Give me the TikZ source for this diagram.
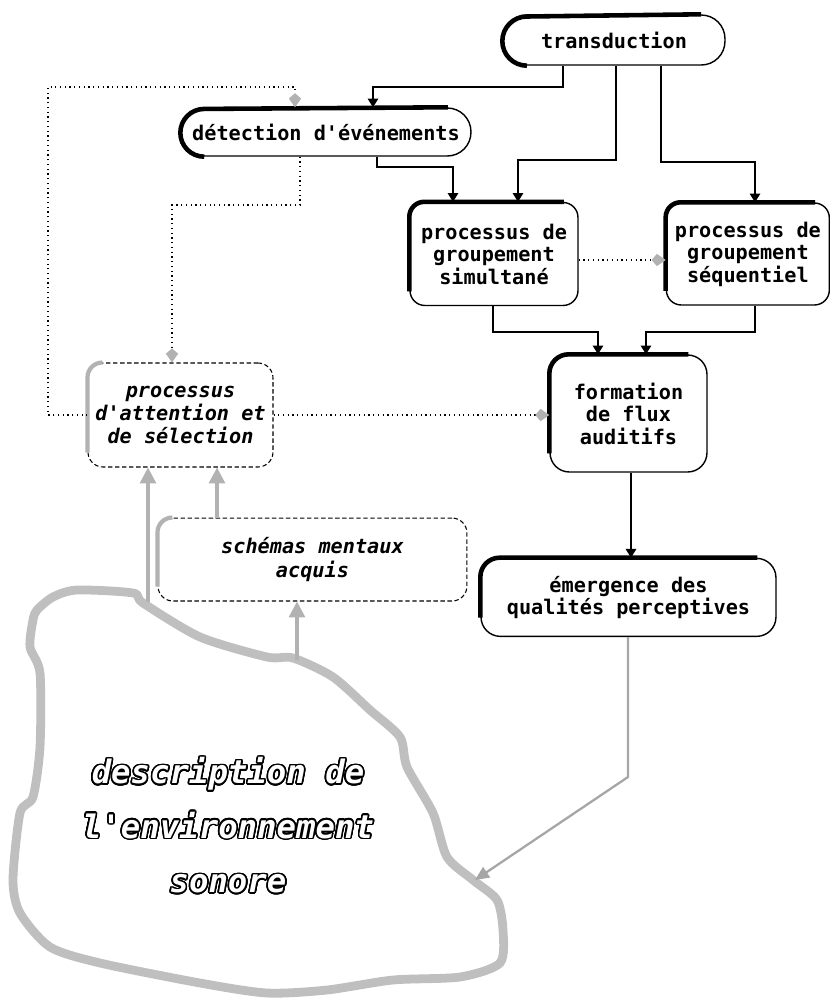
\documentclass[tikz,border=0pt]{standalone}
\usepackage{fontspec}
\setmonofont{DejaVu Sans Mono}
\usepackage[copies]{contour}
\usepackage{tikz}
\usetikzlibrary{arrows.meta, positioning}

\contourlength{0.9pt}
\contournumber{24}

\newcommand{\boxrim}[3]{\draw[#3, line width=2.6pt, rounded corners=#2] ([yshift=#2]#1.south west) -- (#1.north west) -- ([xshift=-#2]#1.north east);}
\newcommand{\caprim}[2]{\draw[line width=2.6pt] ([xshift=#2]#1.south west) arc[start angle=270, end angle=90, radius=#2] -- ([xshift=-#2]#1.north east);}
\newcommand{\dashrim}[2]{\draw[gray!60, line width=2.4pt, rounded corners=#2] ([yshift=#2]#1.south west) -- (#1.north west) -- ([xshift=#2]#1.north west);}

\tikzset{
  procbox/.style={draw, line width=0.8pt, rounded corners=8.5pt, align=center, inner sep=1pt,
    font=\fontsize{11.5}{12.8}\selectfont\ttfamily\bfseries},
  capsule/.style={procbox, rounded corners=13.5pt},
  mindbox/.style={procbox, line width=0.6pt, dash pattern=on 2.5pt off 1.5pt,
    font=\fontsize{11.5}{13.3}\selectfont\ttfamily\bfseries\itshape},
  flow/.style={line width=0.8pt, -{Triangle[length=5pt,width=6pt]}},
  hint/.style={dotted, line width=0.7pt, -{Kite[length=8pt,width=7pt,inset=3pt,color=gray!60,fill=gray!60]}},
  cue/.style={gray!60, line width=2pt, -{Triangle[length=9pt,width=9pt]}},
  feedback/.style={gray!70, line width=1.3pt, -{Triangle[length=8pt,width=7pt]}},
}

\begin{document}
\begin{tikzpicture}[x=0.02cm, y=-0.02cm]
    \useasboundingbox (0,0) rectangle (830,1001);

    \node [capsule, minimum width=4.44cm, minimum height=1cm] (transduction) at (614,40) {transduction};
    \node [capsule, minimum width=5.8cm, minimum height=0.96cm] (detection) at (326,132) {détection d'événements};
    \node [procbox, minimum width=3.36cm, minimum height=2.06cm] (simultaneous) at (494,254) {processus de\\groupement\\simultané};
    \node [procbox, minimum width=3.26cm, minimum height=2.04cm, right=1.74cm of simultaneous] (sequential) {processus de\\groupement\\séquentiel};
    \node [procbox, rounded corners=11pt, minimum width=3.14cm, minimum height=2.34cm] (formation) at (628.5,413.5) {formation\\de flux\\auditifs};
    \node [procbox, rounded corners=11pt, minimum width=5.9cm, minimum height=1.56cm, below=1.7cm of formation] (emergence) {émergence des\\qualités perceptives};
    \node [mindbox, minimum width=3.7cm, minimum height=2.08cm] (attention) at (180.5,415) {processus\\d'attention et\\de sélection};
    \node [mindbox, minimum width=6.18cm, minimum height=1.66cm, below=1cm of attention, xshift=2.64cm] (schemas) {schémas mentaux\\acquis};

    \caprim{transduction}{14pt}
    \caprim{detection}{13.6pt}
    \boxrim{simultaneous}{8.5pt}{black}
    \boxrim{sequential}{8.5pt}{black}
    \boxrim{formation}{11pt}{black}
    \boxrim{emergence}{11pt}{black}
    \dashrim{attention}{8.5pt}
    \dashrim{schemas}{8.5pt}

    \draw [gray!50, line width=5pt, line join=round] plot [smooth cycle, tension=0.45] coordinates {
        (37,610) (53,597) (77,590) (133,593) (143,603) (200,637) (267,657) (293,658)
        (333,677) (370,710) (400,737) (407,767) (433,813) (447,857) (473,880) (497,900)
        (503,930) (500,963) (460,977) (393,980) (327,990) (267,993) (200,983) (100,963)
        (50,947) (20,913) (13,880) (20,813) (33,797) (40,747) (40,673) (30,647) (33,620)};
    \node [font=\fontsize{18.4}{31}\selectfont\ttfamily\bfseries\itshape, color=white, align=center] (environment) at (228,826)
        {\contour{black}{description de}\\\contour{black}{l'environnement}\\\contour{black}{sonore}};
    \coordinate (envA) at (148,602);
    \coordinate (envB) at (297,660);
    \coordinate (envC) at (475,880);
    \coordinate (bend) at (628,777);

    \draw [flow] (563,0 |- transduction.south) |- (373,87) -- (373,0 |- detection.north);
    \draw [flow] (616,0 |- transduction.south) |- (518,160) -- (518,0 |- simultaneous.north);
    \draw [flow] (661,0 |- transduction.south) |- (755,162) -- (755,0 |- sequential.north);
    \draw [flow] (377,0 |- detection.south) |- (453,167) -- (453,0 |- simultaneous.north);
    \draw [flow] (493,0 |- simultaneous.south) |- (598,332) -- (598,0 |- formation.north);
    \draw [flow] (755,0 |- sequential.south) |- (646,332) -- (646,0 |- formation.north);
    \draw [flow] (631,0 |- formation.south) -- (631,0 |- emergence.north);

    \draw [hint] (simultaneous.east |- 0,260) -- (sequential.west |- 0,260);
    \draw [hint] (attention.east) -- (attention.east -| formation.west);
    \draw [hint] (attention.west) -- (48,0 |- attention.west) |- (295,87) -- (295,0 |- detection.north);
    \draw [hint] (300,0 |- detection.south) |- (172,205) -- (172,0 |- attention.north);

    \draw [cue] (envA) -- (148,0 |- attention.south);
    \draw [cue] (217,0 |- schemas.north) -- (217,0 |- attention.south);
    \draw [cue] (envB) -- (297,0 |- schemas.south);
    \draw [feedback] (628,0 |- emergence.south) -- (bend) -- (envC);
\end{tikzpicture}
\end{document}
